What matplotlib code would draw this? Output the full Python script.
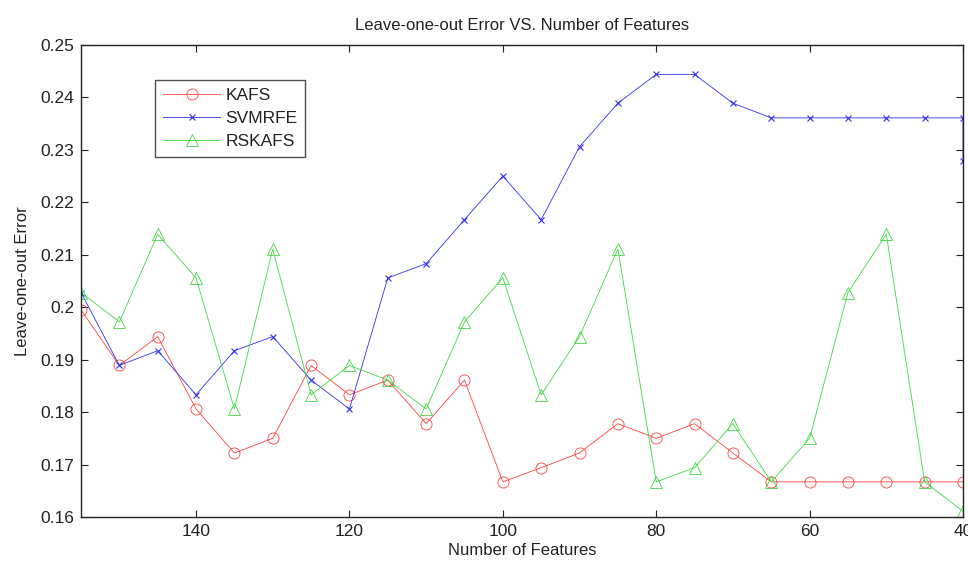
import numpy as np
import matplotlib
matplotlib.use("Agg")
import matplotlib.pyplot as plt

plt.rcParams['font.family'] = ['Liberation Sans', 'DejaVu Sans']

# number of features (x axis runs from 155 down to 40)
features = [155, 150, 145, 140, 135, 130, 125, 120, 115, 110, 105, 100,
            95, 90, 85, 80, 75, 70, 65, 60, 55, 50, 45, 40]

kafs = [0.1995, 0.1889, 0.1944, 0.1806, 0.1722, 0.1750, 0.1889, 0.1833,
        0.1861, 0.1778, 0.1861, 0.1667, 0.1694, 0.1722, 0.1778, 0.1750,
        0.1778, 0.1722, 0.1667, 0.1667, 0.1667, 0.1667, 0.1667, 0.1667]

# svmrfe has a second value logged at 40 features
svm_features = features + [40]
svmrfe = [0.2028, 0.1889, 0.1917, 0.1833, 0.1917, 0.1944, 0.1861, 0.1806,
          0.2056, 0.2083, 0.2167, 0.2250, 0.2167, 0.2306, 0.2389, 0.2444,
          0.2444, 0.2389, 0.2361, 0.2361, 0.2361, 0.2361, 0.2361, 0.2361,
          0.2278]

rskafs = [0.2028, 0.1972, 0.2139, 0.2056, 0.1806, 0.2111, 0.1833, 0.1889,
          0.1861, 0.1806, 0.1972, 0.2056, 0.1833, 0.1944, 0.2111, 0.1667,
          0.1694, 0.1778, 0.1667, 0.1750, 0.2028, 0.2139, 0.1667, 0.1611]

fig = plt.figure(figsize=(9.68, 5.61), dpi=100)
ax = fig.add_axes([81/968, 1 - 517/561, (963-81)/968, (517-45)/561])

ax.plot(features, kafs, '-o', color='#ff4040', lw=0.6, ms=8,
        mfc='none', mew=0.6, label='KAFS')
ax.plot(svm_features, svmrfe, '-x', color='#3030f0', lw=0.6, ms=5,
        mew=0.8, label='SVMRFE')
ax.plot(features, rskafs, '-^', color='#40d840', lw=0.6, ms=9,
        mfc='none', mew=0.6, label='RSKAFS')

ax.set_xlim(155, 40)
ax.set_ylim(0.16, 0.25)
ax.set_xticks([140, 120, 100, 80, 60, 40])
ax.set_yticks(np.arange(0.16, 0.2501, 0.01))
ax.set_yticklabels(['0.16', '0.17', '0.18', '0.19', '0.2', '0.21',
                    '0.22', '0.23', '0.24', '0.25'])
ax.tick_params(direction='in', top=True, right=True, length=5,
               labelsize=12.5, pad=5, colors='#222222')
for s in ax.spines.values():
    s.set_linewidth(1.0)
    s.set_color('#222222')

ax.set_title('Leave-one-out Error VS. Number of Features', fontsize=12,
             pad=11, color='#222222')
ax.set_xlabel('Number of Features', fontsize=12, labelpad=3, color='#222222')
ax.set_ylabel('Leave-one-out Error', fontsize=12, labelpad=7, color='#222222')

leg = ax.legend(loc='upper left', bbox_to_anchor=(0.084, 0.926),
                borderaxespad=0, fancybox=False, edgecolor='#222222',
                fontsize=12.5, handlelength=3.3, labelspacing=0.45,
                handletextpad=0.3, borderpad=0.45)
leg.get_frame().set_linewidth(1.0)
for t in leg.get_texts():
    t.set_color('#222222')

fig.savefig('out.png', dpi=100)
